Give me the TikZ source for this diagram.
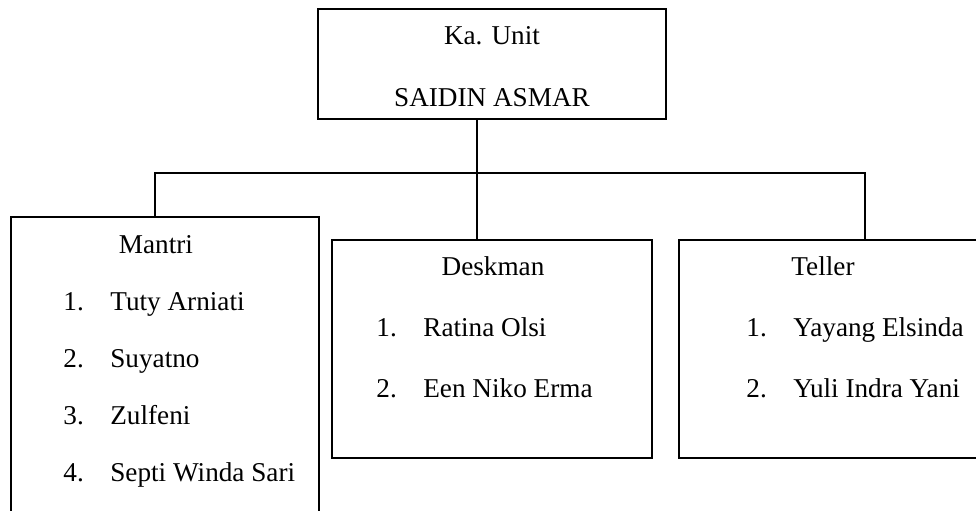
\documentclass[tikz,border=0pt]{standalone}
\usepackage{fontspec}
\setmainfont{Liberation Serif}
\usetikzlibrary{calc}

\tikzset{
  kotak/.style={draw, line width=0.7pt, inner sep=0pt, outer sep=0pt},
  garis/.style={line width=1.2pt},
}
\newcommand{\nomor}[2]{\makebox[23.5pt][l]{#1}#2}

\begin{document}
\begin{tikzpicture}[x=0.5pt, y=-0.5pt, font=\fontsize{13.6}{16}\selectfont]
  \useasboundingbox (0,0) rectangle (976,510);

  % Kotak
  \node[kotak, minimum width=174pt, minimum height=55pt]    (ka)  at (492,64)    {};
  \node[kotak, minimum width=154pt, minimum height=151.5pt] (man) at (165,368.5) {};
  \node[kotak, minimum width=160pt, minimum height=109pt]   (des) at (492,349)   {};
  \node[kotak, minimum width=150.5pt, minimum height=109pt] (tel) at (829.5,349) {};

  % Garis penghubung
  \coordinate (kiri)   at (155,173);
  \coordinate (tengah) at (477,173);
  \coordinate (kanan)  at (865,173);
  \draw[garis] (tengah |- ka.south) -- (tengah |- des.north);
  \draw[garis] (kiri |- man.north) -- (kiri) -- (kanan) -- (kanan |- tel.north);

  % Judul
  \node[anchor=base] (tka)  at (492,44)  {Ka. Unit};
  \node[anchor=base] (tsa)  at (492,106) {SAIDIN ASMAR};
  \node[anchor=base] (tman) at (156,253) {Mantri};
  \node[anchor=base] (tdes) at (493,275) {Deskman};
  \node[anchor=base] (ttel) at (823,275) {Teller};

  % Daftar nama
  \foreach \nm [count=\k] in {Tuty Arniati, Suyatno, Zulfeni, Septi Winda Sari}
    \node[anchor=base west, inner sep=0pt] (man\k) at (63,{253+57*\k}) {\nomor{\k.}{\nm}};
  \foreach \nm [count=\k] in {Ratina Olsi, Een Niko Erma}
    \node[anchor=base west, inner sep=0pt] (des\k) at (376,{275+61*\k}) {\nomor{\k.}{\nm}};
  \foreach \nm [count=\k] in {Yayang Elsinda, Yuli Indra Yani}
    \node[anchor=base west, inner sep=0pt] (tel\k) at (746,{275+61*\k}) {\nomor{\k.}{\nm}};
\end{tikzpicture}
\end{document}
